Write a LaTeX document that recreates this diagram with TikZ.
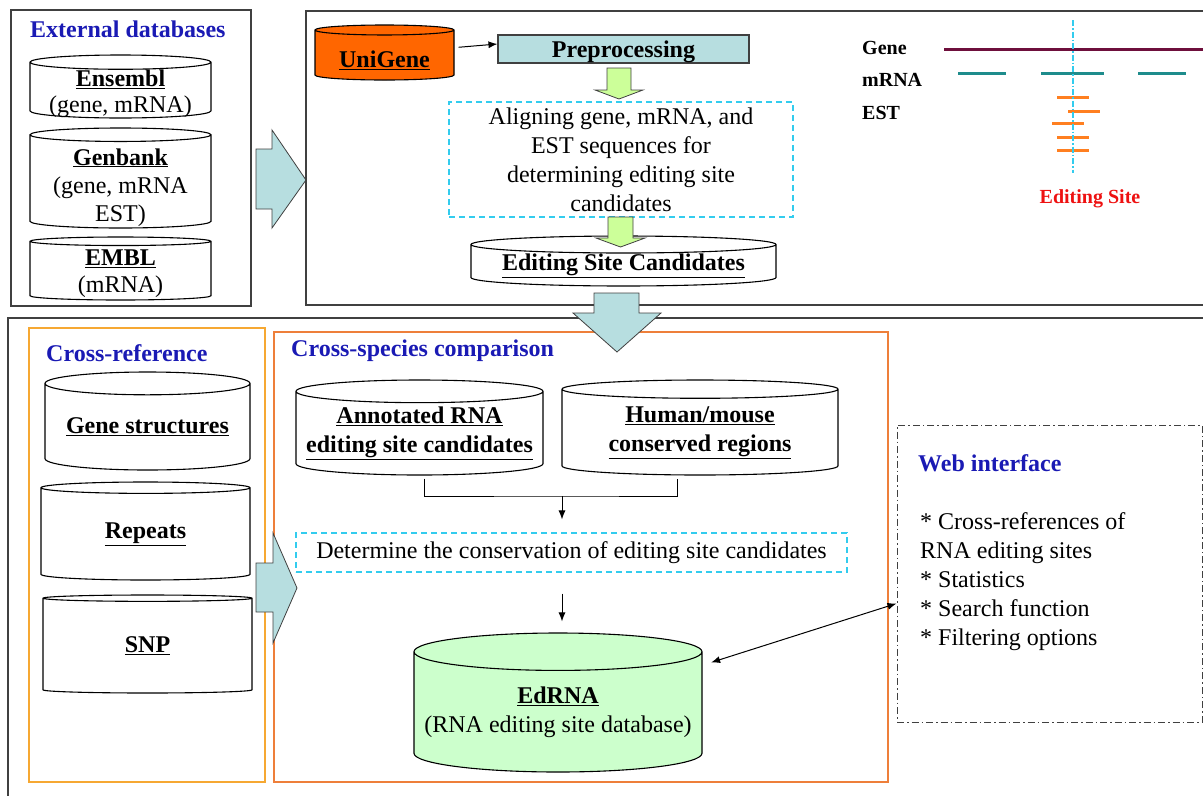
\documentclass[tikz,border=0pt]{standalone}
\usepackage{fontspec}
\setmainfont{Liberation Serif}
\usepackage{tikz}
\usetikzlibrary{arrows.meta,positioning,shapes.geometric}
\definecolor{framegray}{HTML}{404040}
\definecolor{headblue}{HTML}{1A1AB4}
\definecolor{arrowteal}{HTML}{B7DEE0}
\definecolor{arrowgreen}{HTML}{CCFF99}
\definecolor{unigeneorange}{HTML}{FF6600}
\definecolor{dbgreen}{HTML}{CCFFCC}
\definecolor{dashcyan}{HTML}{33CCEE}
\definecolor{xrefframe}{HTML}{F6A832}
\definecolor{xspecframe}{HTML}{EE7F3A}
\definecolor{geneline}{HTML}{6E0F3C}
\definecolor{mrnaline}{HTML}{1E8C8C}
\definecolor{estline}{HTML}{FF7F20}
\definecolor{sitered}{HTML}{EE1111}
\newcommand{\dbname}[1]{\underline{\textbf{#1}}}
% stacked lines that do not push the cylinder open
\newcommand{\dbtext}[2][0pt]{\raisebox{#1}[0pt][0pt]{\begin{tabular}{@{}c@{}}#2\end{tabular}}}
\tikzset{
  frame/.style={draw=framegray,line width=1.3pt},
  heading/.style={font=\fontsize{24}{29}\selectfont\bfseries,text=headblue,inner sep=0pt,anchor=west},
  db/.style={cylinder,shape border rotate=90,aspect=0.12,draw=black,line width=1.1pt,
    fill=white,align=center,inner sep=0pt,anchor=shape center},
  stepbox/.style={rectangle,draw=dashcyan,dash pattern=on 6pt off 4pt,line width=1.1pt,align=center},
  procbox/.style={rectangle,draw=framegray,line width=1.1pt,fill=arrowteal,inner sep=0pt},
  blockarrow/.style={draw=framegray,line width=0.8pt},
  arrow/.style={-{Latex[length=9pt,width=7pt]},line width=1pt,draw=black},
  dblarrow/.style={{Latex[length=9pt,width=7pt]}-{Latex[length=9pt,width=7pt]},line width=1pt,draw=black},
  track/.style={line width=3pt},
  tracklabel/.style={font=\fontsize{20}{24}\selectfont\bfseries,inner sep=0pt,anchor=west}
}

\begin{document}
\begin{tikzpicture}[x=1pt,y=-1pt,font=\fontsize{24}{29}\selectfont]
\useasboundingbox (0,0) rectangle (1203,796);
% external databases
\draw[frame] (11,10) rectangle (251,306);
\node[heading] (exthead) at (30,29) {External databases};
\node[db,aspect=0.1,font=\fontsize{24}{26}\selectfont,minimum width=181pt,minimum height=63pt] (ensembl) at (120.5,86.5) {\dbtext[-10pt]{\dbname{Ensembl}\\(gene, mRNA)}};
\node[db,aspect=0.1,font=\fontsize{24}{28}\selectfont,minimum width=181pt,minimum height=100pt] (genbank) at (120.5,178) {\dbtext[-12pt]{\dbname{Genbank}\\(gene, mRNA\\EST)}};
\node[db,aspect=0.1,font=\fontsize{24}{27}\selectfont,minimum width=181pt,minimum height=63pt] (embl) at (120.5,268.5) {\dbtext[-9pt]{\dbname{EMBL}\\(mRNA)}};
\draw[blockarrow,fill=arrowteal] (256,149) -- (272,149) -- (272,130) -- (306,180) -- (272,228) -- (272,209) -- (256,209) -- cycle;

% candidate pipeline
\draw[frame] (1203,11) -| (306,305) -- (1203,305);
\node[db,fill=unigeneorange,aspect=0.11,minimum width=139pt,minimum height=55pt] (unigene) at (384.5,52.5) {\dbtext[-13pt]{\dbname{UniGene}}};
\node[procbox,text depth=0pt,minimum width=251pt,minimum height=28pt] (prep) at (623.5,49) {\textbf{Preprocessing}};
\draw[arrow] ([shift={(4,-8)}]unigene.east) -- ([yshift=5pt]prep.west);
\draw[blockarrow,fill=arrowgreen] (607,68) -- (631,68) -- (631,90) -- (643,90) -- (619,99) -- (595,90) -- (607,90) -- cycle;
\node[stepbox,minimum width=344pt,minimum height=115pt] (align) at (621,159.5) {Aligning gene, mRNA, and\\EST sequences for\\determining editing site\\candidates};
\node[db,aspect=0.07,minimum width=305pt,minimum height=48pt] (esc) at (623.5,261) {\dbname{Editing Site Candidates}};
\draw[blockarrow,fill=arrowgreen] (608,217) -- (633,217) -- (633,238) -- (645,238) -- (620.5,247) -- (596,238) -- (608,238) -- cycle;

% editing site sketch
\node[tracklabel] (genelab) at (862,48) {Gene};
\node[tracklabel] (mrnalab) at (862,80) {mRNA};
\node[tracklabel] (estlab) at (862,113) {EST};
\draw[track,geneline] (944,49) -- (1203,49);
\foreach \a/\b in {958/1006,1041/1104,1138/1186}
  \draw[track,mrnaline] (\a,73) -- (\b,73);
\foreach \a/\b/\y in {1057/1089/97,1068/1100/111,1052/1084/123,1057/1089/137,1057/1089/150}
  \draw[track,estline] (\a,\y) -- (\b,\y);
\draw[dashcyan,line width=1.2pt,dash pattern=on 6pt off 2pt on 1.5pt off 2pt] (1073,20) -- (1073,173);
\node[tracklabel,anchor=center,text=sitered] (sitelab) at (1090,199) {Editing Site};

% lower part
\draw[frame] (1203,318) -| (8,796);
\draw[xrefframe,line width=1.3pt] (29,328) rectangle (265,782);
\draw[xspecframe,line width=1.3pt] (274,332) rectangle (888,782);
\node[heading] (xrefhead) at (46,353) {Cross-reference};
\node[heading] (xspechead) at (291,351) {Cross-species comparison};
\node[db,aspect=0.14,minimum width=205pt,minimum height=98pt] (genestr) at (147.5,421) {\dbname{Gene structures}};
\node[db,aspect=0.14,minimum width=209pt,minimum height=98pt] (repeats) at (145.5,531) {\dbname{Repeats}};
\node[db,aspect=0.14,minimum width=209pt,minimum height=98pt] (snp) at (147.5,644) {\dbname{SNP}};
\draw[blockarrow,fill=arrowteal] (256,563) -- (273,563) -- (273,533) -- (297,588) -- (273,643) -- (273,612) -- (256,612) -- cycle;
\draw[blockarrow,fill=arrowteal] (594,293) -- (639,293) -- (639,313) -- (661,313) -- (617,352) -- (573,313) -- (594,313) -- cycle;

\node[db,aspect=0.1,minimum width=247pt,minimum height=95pt] (annot) at (419.5,427.5) {\dbname{Annotated RNA}\\\dbname{editing site candidates}};
\node[db,aspect=0.1,minimum width=276pt,minimum height=95pt] (conserved) at (700,427.5) {\dbname{Human/mouse}\\\dbname{conserved regions}};
\coordinate (merge) at (562,496);
\draw[line width=1pt] ([shift={(5,3)}]annot.south) |- (merge) -| ([shift={(-23,3)}]conserved.south);
\node[stepbox,minimum width=551pt,minimum height=39pt] (conserv) at (571.5,552.5) {Determine the conservation of editing site candidates};
\draw[arrow,shorten >=13pt] (merge) -- (merge |- conserv.north);
\node[db,aspect=0.14,fill=dbgreen,minimum width=288pt,minimum height=139pt] (edrna) at (558,702.5) {\dbname{EdRNA}\\(RNA editing site database)};
\draw[arrow,shorten <=21pt,shorten >=11pt] (merge |- conserv.south) -- (merge |- edrna.north);

% web interface
\node[draw=framegray,line width=1pt,dash pattern=on 7pt off 3pt on 1.5pt off 3pt,minimum width=305pt,minimum height=297pt] (web) at (1049.5,573.5) {};
\node[heading] (webhead) at (918,463) {Web interface};
\node[anchor=north west,align=left,inner sep=0pt] (webitems) at (920,512) {* Cross-references of\\RNA editing sites\\* Statistics\\* Search function\\* Filtering options};
\draw[dblarrow,shorten <=9pt] (edrna.18) -- ([yshift=-30pt]web.west);
\end{tikzpicture}
\end{document}
